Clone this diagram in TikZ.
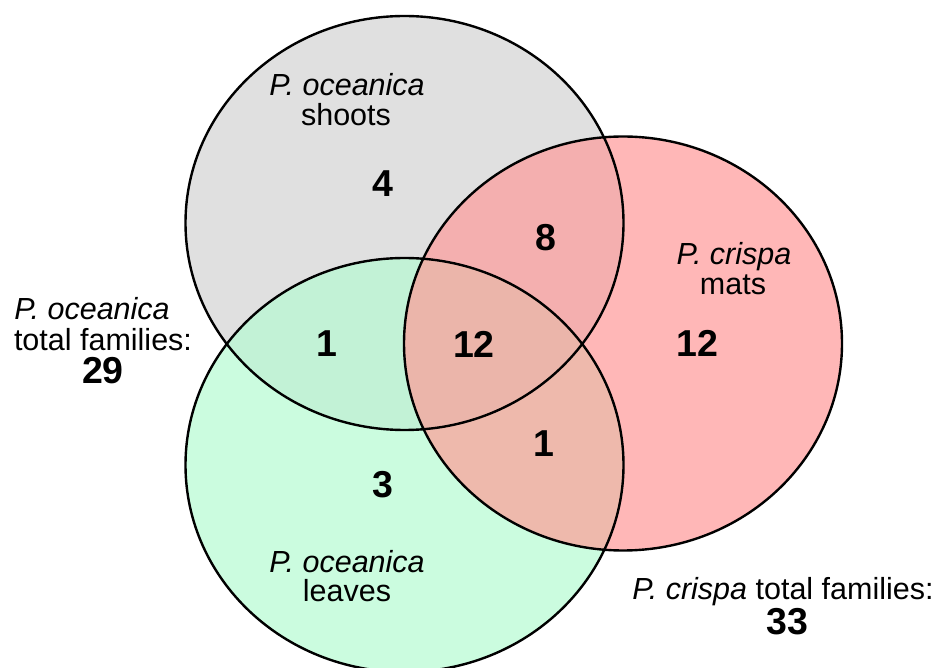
\documentclass[tikz,border=0pt]{standalone}
\usepackage{fontspec}
\setmainfont{Liberation Sans}
\usetikzlibrary{positioning}
\definecolor{vngray}{HTML}{E0E0E0}
\definecolor{vngreen}{HTML}{CBFCDF}
\definecolor{vnred}{HTML}{FFB7B7}
\definecolor{vngraygreen}{HTML}{C2F2D6}
\definecolor{vngrayred}{HTML}{F4AFAF}
\definecolor{vngreenred}{HTML}{EEB9AC}
\definecolor{vnall}{HTML}{EBB5AA}
\def\shoots{(404.5,444) ellipse [x radius=219, y radius=207]}
\def\leaves{(404.5,202) ellipse [x radius=219, y radius=207]}
\def\mats{(623,323.5) ellipse [x radius=219, y radius=207]}

\begin{document}
\begin{tikzpicture}[x=1pt, y=1pt,
  lbl/.style={anchor=base, font=\fontsize{30.5}{31}\selectfont},
  num/.style={anchor=base, font=\fontsize{37.5}{38}\selectfont\bfseries}]
\useasboundingbox (0,0) rectangle (937,667);
% Set fills
\fill[vngray] \shoots;
\fill[vngreen] \leaves;
\fill[vnred] \mats;
% Overlaps
\begin{scope}
  \clip \shoots;
  \fill[vngraygreen] \leaves;
  \fill[vngrayred] \mats;
\end{scope}
\begin{scope}
  \clip \leaves;
  \fill[vngreenred] \mats;
\end{scope}
\begin{scope}
  \clip \shoots;
  \clip \leaves;
  \fill[vnall] \mats;
\end{scope}
% Outlines
\foreach \set in {\shoots, \leaves, \mats} {
  \draw[line width=2.4pt] \set;
}
% Counts
\foreach \x/\y/\val [count=\i] in {
  383/470/4,
  546/416/8,
  327/310/1,
  474/309/12,
  697/310/12,
  544/210/1,
  383/169/3
} {
  \node[num] (n\i) at (\x,\y) {\val};
}
% Set labels
\node[lbl] (shootsA) at (347,571) {\itshape P. oceanica};
\node[lbl] (shootsB) at (346,541) {shoots};
\node[lbl] (matsA) at (734,402) {\itshape P. crispa};
\node[lbl] (matsB) at (733,372) {mats};
\node[lbl] (leavesA) at (347,95) {\itshape P. oceanica};
\node[lbl] (leavesB) at (347,66) {leaves};
% Totals
\node[lbl] (totA) at (92,347) {\itshape P. oceanica};
\node[lbl] (totB) at (103,316) {total families:};
\node[num] (totC) at (103,283) {29};
\node[lbl] (crispaA) at (783,68) {\itshape P. crispa\upshape\ total families:};
\node[num] (crispaB) at (787,33) {33};
\end{tikzpicture}
\end{document}
